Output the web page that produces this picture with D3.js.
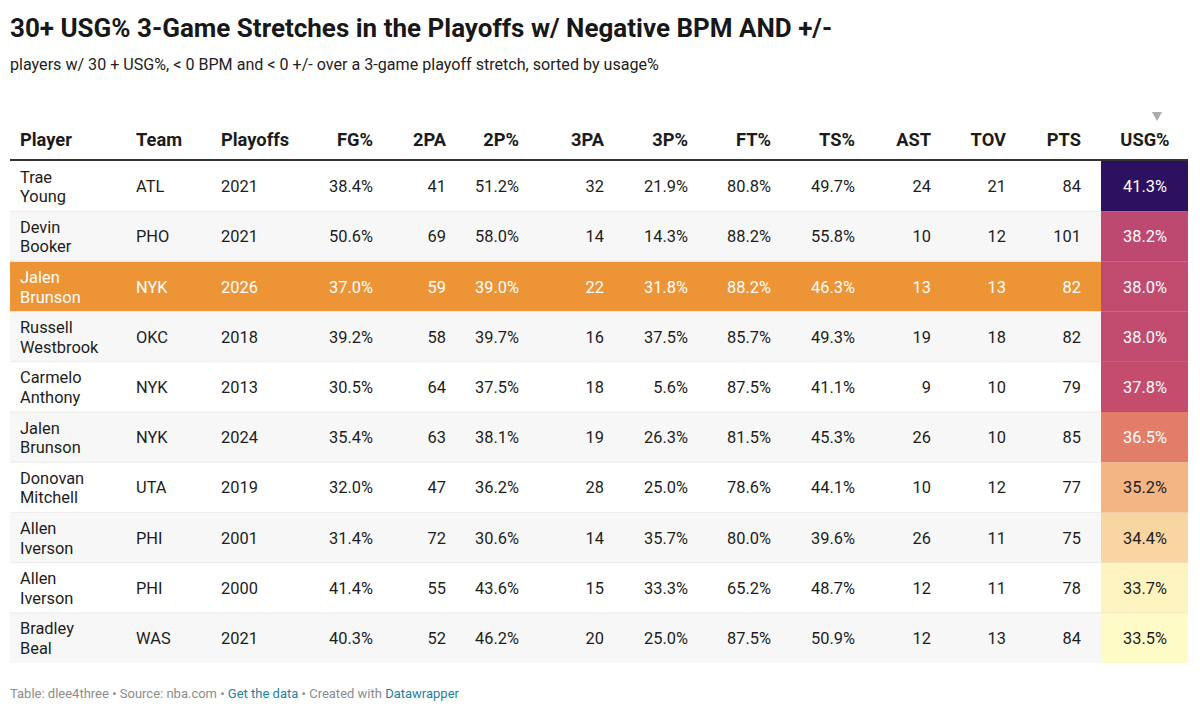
<!DOCTYPE html>
<html><head><meta charset="utf-8">
<script src="https://cdn.jsdelivr.net/npm/d3@7"></script>
<style>
html,body{margin:0;padding:0;background:#fff;}
svg{display:block;font-family:Roboto, "Noto Sans", sans-serif;}
</style></head>
<body>
<svg id="chart" width="1200" height="712"></svg>
<script>
// ---- data ----
const players = ["Trae Young","Devin Booker","Jalen Brunson","Russell Westbrook","Carmelo Anthony","Jalen Brunson","Donovan Mitchell","Allen Iverson","Allen Iverson","Bradley Beal"];
const teams = ["ATL","PHO","NYK","OKC","NYK","NYK","UTA","PHI","PHI","WAS"];
const playoffs = ["2021","2021","2026","2018","2013","2024","2019","2001","2000","2021"];
const fgPct = [38.4,50.6,37.0,39.2,30.5,35.4,32.0,31.4,41.4,40.3];
const twoPA = [41,69,59,58,64,63,47,72,55,52];
const twoPct = [51.2,58.0,39.0,39.7,37.5,38.1,36.2,30.6,43.6,46.2];
const threePA = [32,14,22,16,18,19,28,14,15,20];
const threePct = [21.9,14.3,31.8,37.5,5.6,26.3,25.0,35.7,33.3,25.0];
const ftPct = [80.8,88.2,88.2,85.7,87.5,81.5,78.6,80.0,65.2,87.5];
const tsPct = [49.7,55.8,46.3,49.3,41.1,45.3,44.1,39.6,48.7,50.9];
const ast = [24,10,13,19,9,26,10,26,12,12];
const tov = [21,12,13,18,10,10,12,11,11,13];
const pts = [84,101,82,82,79,85,77,75,78,84];
const usg = [41.3,38.2,38.0,38.0,37.8,36.5,35.2,34.4,33.7,33.5];
const highlightRow = 2;

const title = "30+ USG% 3-Game Stretches in the Playoffs w/ Negative BPM AND +/-";
const subtitle = "players w/ 30 + USG%, < 0 BPM and < 0 +/- over a 3-game playoff stretch, sorted by usage%";

// ---- layout ----
const W = 1200, H = 712;
const tableLeft = 10, tableRight = 1188;
const headerLine = 160, tableBottom = 663;
const pct = v => v.toFixed(1) + "%";
const columns = [
  {name:"Player", vals:players, align:"start", x:20},
  {name:"Team", vals:teams, align:"start", x:136},
  {name:"Playoffs", vals:playoffs, align:"start", x:221},
  {name:"FG%", vals:fgPct.map(pct), align:"end", x:373},
  {name:"2PA", vals:twoPA, align:"end", x:446},
  {name:"2P%", vals:twoPct.map(pct), align:"end", x:519},
  {name:"3PA", vals:threePA, align:"end", x:604},
  {name:"3P%", vals:threePct.map(pct), align:"end", x:688},
  {name:"FT%", vals:ftPct.map(pct), align:"end", x:771},
  {name:"TS%", vals:tsPct.map(pct), align:"end", x:855},
  {name:"AST", vals:ast, align:"end", x:931},
  {name:"TOV", vals:tov, align:"end", x:1006},
  {name:"PTS", vals:pts, align:"end", x:1081},
  {name:"USG%", vals:usg.map(pct), align:"middle", x:1145}
];
const usgCellLeft = 1101;

const svg = d3.select("#chart");
const idx = d3.range(players.length);
const y = d3.scaleBand().domain(idx).range([headerLine + 1, tableBottom]).paddingInner(0);

const color = d3.scaleLinear()
  .domain([33.5, 34.4, 35.2, 36.5, 37.8, 38.2, 41.3])
  .range(["#fefbc6", "#f8d5a1", "#f3b584", "#e27d68", "#c44d6e", "#bd4870", "#2b1160"])
  .interpolate(d3.interpolateRgb)
  .clamp(true);

// title
svg.append("text").attr("x", 10).attr("y", 37)
  .attr("font-size", 26).attr("font-weight", 700).attr("fill", "#181818").text(title);
svg.append("text").attr("x", 10).attr("y", 70)
  .attr("font-size", 16.1).attr("fill", "#222").text(subtitle);

// row backgrounds
const rows = svg.append("g");
rows.selectAll("rect.bg").data(idx).join("rect")
  .attr("x", tableLeft).attr("width", tableRight - tableLeft)
  .attr("y", d => y(d)).attr("height", y.bandwidth())
  .attr("fill", d => d === highlightRow ? "#ed9437" : (d % 2 === 1 ? "#f7f7f7" : "#ffffff"));

// row separators
rows.selectAll("line.sep").data(idx.slice(1)).join("line")
  .attr("x1", tableLeft).attr("x2", tableRight)
  .attr("y1", d => y(d)).attr("y2", d => y(d))
  .attr("stroke", "#ebebeb").attr("stroke-width", 1);

// usg cells
rows.selectAll("rect.usg").data(idx).join("rect")
  .attr("x", usgCellLeft).attr("width", tableRight - usgCellLeft)
  .attr("y", d => y(d)).attr("height", y.bandwidth())
  .attr("fill", d => color(usg[d]));
rows.selectAll("line.usgsep").data(idx.slice(1)).join("line")
  .attr("x1", usgCellLeft).attr("x2", tableRight)
  .attr("y1", d => y(d)).attr("y2", d => y(d))
  .attr("stroke", "#000").attr("stroke-opacity", 0.04);

// header
const head = svg.append("g");
head.selectAll("text").data(columns).join("text")
  .attr("x", d => d.x).attr("y", 146)
  .attr("text-anchor", d => d.align)
  .attr("font-size", 18.3).attr("font-weight", 700).attr("fill", "#1b1b1b")
  .text(d => d.name);
head.append("line").attr("x1", tableLeft).attr("x2", tableRight)
  .attr("y1", headerLine).attr("y2", headerLine)
  .attr("stroke", "#333").attr("stroke-width", 2);
// sort indicator
const usgCol = columns[columns.length - 1];
head.append("path")
  .attr("d", d3.line()([[usgCol.x + 7, 112], [usgCol.x + 17, 112], [usgCol.x + 12, 121]]) + "Z")
  .attr("fill", "#aaa");

// cells
const cells = svg.append("g");
columns.forEach((col, ci) => {
  const isUsg = ci === columns.length - 1;
  idx.forEach(r => {
    const cy = y(r) + y.bandwidth() / 2;
    let fill = "#1d1d1d";
    if (r === highlightRow) fill = "#ffffff";
    if (isUsg) fill = usg[r] >= 36 ? "#ffffff" : "#1d1d1d";
    const t = cells.append("text")
      .attr("x", col.x).attr("text-anchor", col.align)
      .attr("font-size", 16.4).attr("fill", fill);
    if (ci === 0) {
      const parts = String(col.vals[r]).split(" ");
      t.selectAll("tspan").data(parts).join("tspan")
        .attr("x", col.x)
        .attr("y", (d, i) => cy - 3.5 + i * 19.5)
        .text(d => d);
    } else {
      t.attr("y", cy + 6).text(col.vals[r]);
    }
  });
});

// footer
const foot = svg.append("text").attr("x", 10).attr("y", 698).attr("font-size", 13);
const footParts = [
  ["Table: dlee4three • Source: nba.com • ", "#8c8c8c"],
  ["Get the data", "#1d81a2"],
  [" • Created with ", "#8c8c8c"],
  ["Datawrapper", "#1d81a2"]
];
foot.selectAll("tspan").data(footParts).join("tspan")
  .attr("fill", d => d[1]).text(d => d[0]);
</script>
</body></html>
